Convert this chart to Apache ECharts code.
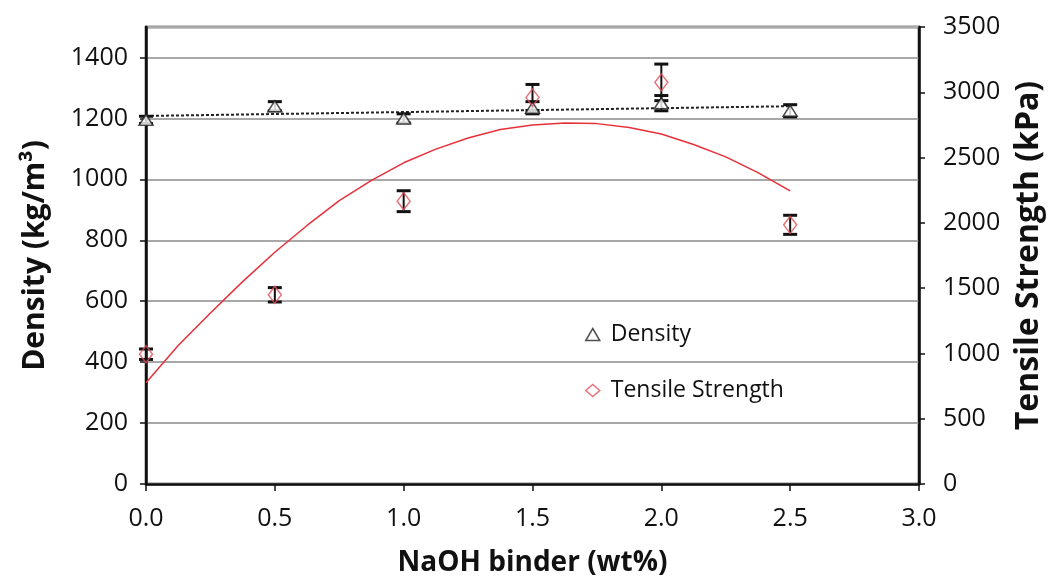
<!DOCTYPE html>
<html>
<head>
<meta charset="utf-8">
<script src="https://cdn.jsdelivr.net/npm/echarts@6/dist/echarts.min.js"></script>
<style>
html,body{margin:0;padding:0;background:#fff;}
#chart{width:1051px;height:579px;}
</style>
</head>
<body>
<div id="chart"></div>
<script>
// ---- data ----
var binder = [0.0, 0.5, 1.0, 1.5, 2.0, 2.5];              // NaOH binder (wt%)
var density = [1195, 1240, 1200, 1235, 1250, 1225];        // kg/m3
var densityErr = [12, 15, 15, 20, 25, 20];
var tensile = [994, 1449, 2166, 2960, 3076, 1985];         // kPa
var tensileErr = [40, 55, 80, 100, 140, 73];
// trend lines
var densTrendX = [0.0, 2.5];
var densTrendY = [1208, 1240];
var tensTrendX = [0.0, 0.125, 0.25, 0.375, 0.5, 0.625, 0.75, 0.875, 1.0, 1.125, 1.25,
                  1.375, 1.5, 1.625, 1.75, 1.875, 2.0, 2.125, 2.25, 2.375, 2.5];
var tensTrendY = [775, 1060, 1310, 1550, 1775, 1980, 2170, 2325, 2460, 2565, 2650,
                  2715, 2750, 2765, 2760, 2730, 2680, 2600, 2505, 2385, 2245];
var xTicks = [0, 3, 0.5];
var leftTicks = [0, 1500, 200];
var rightTicks = [0, 3500, 500];

function pairs(xs, ys){ return xs.map(function(x,i){ return [x, ys[i]]; }); }
function errData(xs, ys, es){ return xs.map(function(x,i){ return [x, ys[i]-es[i], ys[i]+es[i]]; }); }

function errRender(params, api){
  var x = api.value(0);
  var lo = api.coord([x, api.value(1)]);
  var hi = api.coord([x, api.value(2)]);
  var w = 7;
  var st = {stroke:'#111', lineWidth:3};
  return {type:'group', children:[
    {type:'line', shape:{x1:lo[0], y1:lo[1], x2:hi[0], y2:hi[1]}, style:{stroke:'#111', lineWidth:2}},
    {type:'line', shape:{x1:lo[0]-w, y1:lo[1], x2:lo[0]+w, y2:lo[1]}, style:st},
    {type:'line', shape:{x1:hi[0]-w, y1:hi[1], x2:hi[0]+w, y2:hi[1]}, style:st}
  ]};
}

var FONT = '"Open Sans", Lato, sans-serif';
var chart = echarts.init(document.getElementById('chart'));
chart.setOption({
  animation:false,
  backgroundColor:'#fff',
  grid:{left:146, right:132, top:27, bottom:95, show:true, borderColor:'#111', borderWidth:2.5,
        containLabel:false, outerBoundsMode:'none'},
  legend:{
    orient:'vertical', left:580, top:318, itemGap:33,
    itemWidth:14, itemHeight:12,
    textStyle:{fontFamily:FONT, fontSize:23, color:'#111', padding:[0,0,0,6]},
    data:[
      {name:'Density', icon:'triangle', itemStyle:{color:'#fff', borderColor:'#222', borderWidth:1.5}},
      {name:'Tensile Strength', icon:'diamond', itemStyle:{color:'#fff', borderColor:'#e0505a', borderWidth:1.5}}
    ]
  },
  xAxis:{
    type:'value', min:xTicks[0], max:xTicks[1], interval:xTicks[2],
    name:'NaOH binder (wt%)', nameLocation:'middle', nameGap:65,
    nameTextStyle:{fontFamily:FONT, fontSize:28, fontWeight:'bold', color:'#111'},
    axisLine:{lineStyle:{color:'#111', width:2.5}},
    axisTick:{show:true, inside:false, length:7, lineStyle:{color:'#111', width:1.5}},
    axisLabel:{fontFamily:FONT, fontSize:25, color:'#111', margin:22,
      formatter:function(v){ return v.toFixed(1); }},
    splitLine:{show:false}
  },
  yAxis:[{
    type:'value', min:leftTicks[0], max:leftTicks[1], interval:leftTicks[2],
    name:'Density (kg/m³)', nameLocation:'middle', nameGap:96,
    nameTextStyle:{fontFamily:FONT, fontSize:30, fontWeight:'bold', color:'#111'},
    axisLine:{show:true, lineStyle:{color:'#111', width:2.5}},
    axisTick:{show:true, inside:false, length:6, lineStyle:{color:'#111', width:1.5}},
    axisLabel:{fontFamily:FONT, fontSize:25, color:'#111', margin:18, showMaxLabel:false,
      formatter:function(v){ return String(v); }},
    splitLine:{show:true, lineStyle:{color:'#a8a8a8', width:2}}
  },{
    type:'value', min:rightTicks[0], max:rightTicks[1], interval:rightTicks[2], position:'right',
    name:'Tensile Strength (kPa)', nameLocation:'middle', nameGap:94,
    nameTextStyle:{fontFamily:FONT, fontSize:32, fontWeight:'bold', color:'#111'},
    axisLine:{show:true, lineStyle:{color:'#111', width:2.5}},
    axisTick:{show:true, inside:false, length:6, lineStyle:{color:'#111', width:1.5}},
    axisLabel:{fontFamily:FONT, fontSize:25, color:'#111', margin:24,
      formatter:function(v){ return String(v); }},
    splitLine:{show:false}
  }],
  series:[
    {name:'densTrend', type:'line', yAxisIndex:0, data:pairs(densTrendX, densTrendY),
      symbol:'none', lineStyle:{color:'#222', width:2, type:[3,2]}, silent:true, z:2},
    {name:'tensTrend', type:'line', yAxisIndex:1, data:pairs(tensTrendX, tensTrendY),
      symbol:'none', smooth:false, lineStyle:{color:'#e8303a', width:1.5}, silent:true, z:2},
    {name:'densErr', type:'custom', yAxisIndex:0, renderItem:errRender,
      data:errData(binder, density, densityErr), z:3},
    {name:'tensErr', type:'custom', yAxisIndex:1, renderItem:errRender,
      data:errData(binder, tensile, tensileErr), z:3},
    {name:'Density', type:'scatter', yAxisIndex:0, data:pairs(binder, density),
      symbol:'triangle', symbolSize:[14,11],
      itemStyle:{color:'#fff', borderColor:'#222', borderWidth:1.5}, z:4},
    {name:'Tensile Strength', type:'scatter', yAxisIndex:1, data:pairs(binder, tensile),
      symbol:'diamond', symbolSize:[13,17],
      itemStyle:{color:'rgba(255,255,255,0)', borderColor:'#e0505a', borderWidth:1.5}, z:5}
  ]
});
</script>
</body>
</html>
